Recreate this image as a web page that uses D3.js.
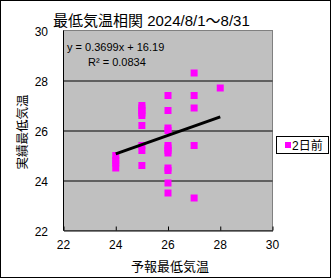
<!DOCTYPE html>
<html>
<head>
<meta charset="utf-8">
<script src="https://cdn.jsdelivr.net/npm/d3@7"></script>
<style>
  html, body { margin: 0; padding: 0; background: #fff; }
  svg { display: block; font-family: "Liberation Sans", "Noto Sans CJK JP", sans-serif; }
</style>
</head>
<body>
<div id="chart"></div>
<script>
// forecast min temperature (x) vs. actual min temperature (y), Aug 1-31
const forecast = [
  24, 24, 24, 24,
  25, 25, 25, 25, 25, 25, 25, 25, 25,
  26, 26, 26, 26, 26, 26, 26, 26, 26, 26, 26, 26,
  27, 27, 27, 27, 27,
  28
];
const actual = [
  25.0, 24.8, 24.7, 24.5,
  27.0, 26.9, 26.8, 26.7, 26.6, 26.2, 25.4, 25.2, 24.6,
  27.4, 26.8, 26.1, 26.0, 25.4, 25.3, 25.2, 25.1, 24.5, 24.4, 23.9, 23.5,
  28.3, 27.4, 26.9, 25.4, 23.3,
  27.7
];
const ticks = [22, 24, 26, 28, 30];
const trendSlope = 0.3699;
const trendIntercept = 16.19;
const rSquared = 0.0834;
const seriesName = "2日前";

const W = 332, H = 279;
const svg = d3.select("#chart").append("svg").attr("width", W).attr("height", H);

// outer frame
svg.append("rect").attr("x", 0.5).attr("y", 0.5).attr("width", W - 2).attr("height", H - 2)
  .attr("fill", "#fff").attr("stroke", "#000");

const x = d3.scaleLinear().domain([22, 30]).range([63.5, 272.5]);
const y = d3.scaleLinear().domain([22, 30]).range([230.5, 30.5]);

// plot area
svg.append("rect").attr("x", x(22)).attr("y", y(30))
  .attr("width", x(30) - x(22)).attr("height", y(22) - y(30))
  .attr("fill", "#c0c0c0").attr("stroke", "#808080");

// horizontal gridlines
svg.append("g")
  .attr("transform", `translate(${x(22)},0)`)
  .call(d3.axisLeft(y).tickValues([24, 26, 28]).tickSize(-(x(30) - x(22))).tickFormat(""))
  .call(g => g.select(".domain").remove())
  .selectAll("line").attr("stroke", "#000");

// y axis labels
svg.append("g").selectAll("text").data(ticks).join("text")
  .attr("x", 48).attr("y", d => y(d) + 5)
  .attr("text-anchor", "end").attr("font-size", 12).text(d => d);

// x axis
svg.append("g")
  .attr("transform", `translate(0,${y(22)})`)
  .call(d3.axisBottom(x).tickValues(ticks).tickSizeInner(-4).tickSizeOuter(0).tickFormat(""))
  .call(g => g.select(".domain").attr("stroke", "#000"))
  .selectAll("line").attr("stroke", "#000");

svg.append("g").selectAll("text").data(ticks).join("text")
  .attr("x", d => x(d)).attr("y", 249)
  .attr("text-anchor", "middle").attr("font-size", 12).text(d => d);

// left axis line
svg.append("line").attr("x1", x(22)).attr("x2", x(22)).attr("y1", y(30)).attr("y2", y(22))
  .attr("stroke", "#000");

// points
svg.append("g").selectAll("rect").data(forecast.map((f, i) => [f, actual[i]])).join("rect")
  .attr("x", d => x(d[0]) - 3.5).attr("y", d => y(d[1]) - 3.5)
  .attr("width", 7).attr("height", 7).attr("fill", "#ff00ff");

// trendline
const xr = d3.extent(forecast);
svg.append("line")
  .attr("x1", x(xr[0])).attr("y1", y(trendSlope * xr[0] + trendIntercept))
  .attr("x2", x(xr[1])).attr("y2", y(trendSlope * xr[1] + trendIntercept))
  .attr("stroke", "#000").attr("stroke-width", 3);

// equation
svg.append("text").attr("x", 67).attr("y", 51).attr("font-size", 11)
  .text(`y = ${trendSlope}x + ${trendIntercept}`);
svg.append("text").attr("x", 88).attr("y", 66).attr("font-size", 11)
  .text(`R² = ${rSquared}`);

// titles
svg.append("text").attr("x", 53).attr("y", 26).attr("font-size", 15)
  .text("最低気温相関 2024/8/1～8/31");
svg.append("text").attr("x", 170).attr("y", 271).attr("text-anchor", "middle")
  .attr("font-size", 13).text("予報最低気温");
svg.append("text").attr("transform", "translate(27,132) rotate(-90)")
  .attr("text-anchor", "middle").attr("font-size", 12.5).text("実績最低気温");

// legend
const lg = svg.append("g").attr("transform", "translate(276,136)");
lg.append("rect").attr("x", 0.5).attr("y", 0.5).attr("width", 52).attr("height", 17)
  .attr("fill", "#fff").attr("stroke", "#000");
lg.append("rect").attr("x", 9).attr("y", 6).attr("width", 6).attr("height", 6).attr("fill", "#ff00ff");
lg.append("text").attr("x", 16).attr("y", 14).attr("font-size", 12).text(seriesName);
</script>
</body>
</html>
